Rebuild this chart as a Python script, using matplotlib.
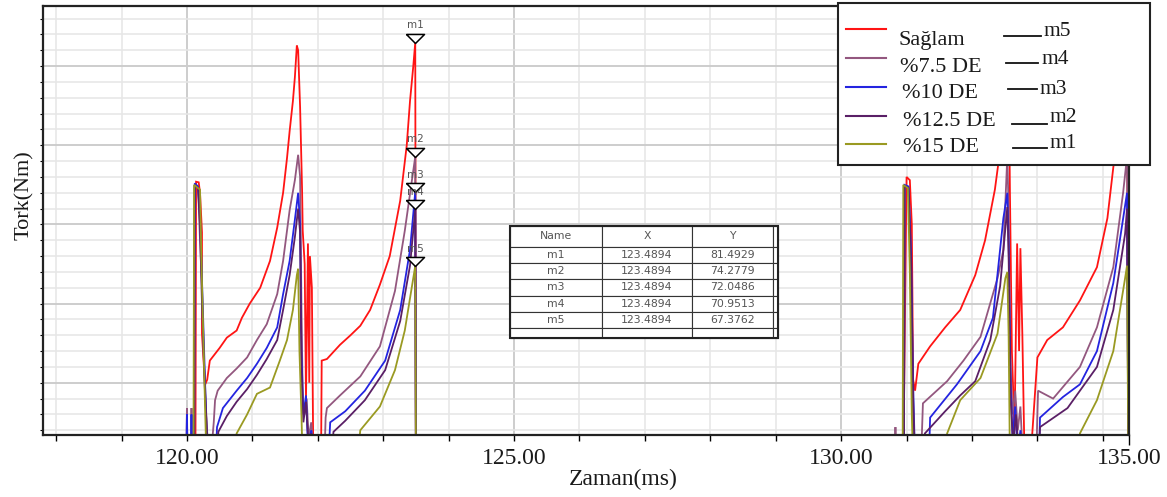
import numpy as np
import matplotlib as mpl
import matplotlib.pyplot as plt
from matplotlib.patches import Rectangle
from matplotlib.lines import Line2D
from matplotlib.ticker import MultipleLocator

mpl.rcParams['font.family'] = ['Liberation Serif', 'DejaVu Serif']

# --- data (time in ms, torque in Nm) ---
series_names = ['Sağlam', '%7.5 DE', '%10 DE', '%12.5 DE', '%15 DE']
series_colors = ['#ff1414', '#93577f', '#2424e0', '#5a1f66', '#9a9a22']

saglam_t = [117.80, 120.13, 120.14, 120.18, 120.20, 120.23, 120.23, 120.26, 120.28, 120.31,
            120.35, 120.50, 120.61, 120.76, 120.84, 120.96, 121.12, 121.27, 121.38, 121.47,
            121.53, 121.57, 121.62, 121.65, 121.68, 121.70, 121.73, 121.76, 121.77, 121.80,
            121.82, 121.85, 121.87, 121.88, 121.91, 121.93, 122.00, 122.05, 122.06, 122.14,
            122.34, 122.50, 122.65, 122.80, 122.95, 123.10, 123.26, 123.36, 123.41, 123.46,
            123.49, 123.50, 130.95, 131.00, 131.05, 131.08, 131.10, 131.13, 131.18, 131.36,
            131.59, 131.82, 132.05, 132.20, 132.35, 132.43, 132.49, 132.54, 132.56, 132.58,
            132.61, 132.65, 132.69, 132.72, 132.74, 132.77, 132.80, 132.90, 132.92, 133.00,
            133.15, 133.39, 133.65, 133.91, 134.07, 134.16, 134.28, 134.37, 134.38, 134.40]
saglam_tq = [55.0, 55.0, 72.7, 72.66, 72.0, 69.5, 63.1, 61.0, 59.9, 60.2,
             61.4, 62.2, 62.85, 63.3, 64.1, 65.0, 66.0, 67.7, 69.8, 72.0,
             74.2, 75.9, 77.8, 79.3, 81.3, 81.0, 77.4, 72.2, 69.6, 67.5,
             59.0, 68.8, 60.0, 68.0, 66.0, 56.0, 55.0, 55.0, 61.4, 61.5,
             62.4, 63.0, 63.6, 64.6, 66.2, 68.0, 71.5, 75.0, 77.8, 80.0,
             81.49, 55.0, 55.0, 73.0, 72.8, 70.0, 60.2, 59.5, 61.2, 62.3,
             63.5, 64.6, 66.8, 69.0, 72.2, 74.7, 78.5, 81.3, 80.5, 72.0,
             62.0, 57.0, 68.8, 62.0, 68.5, 63.0, 56.0, 55.0, 56.7, 61.6,
             62.7, 63.5, 65.2, 67.3, 70.4, 73.6, 77.5, 81.5, 66.0, 55.0]

de75_t = [117.80, 119.99, 120.00, 120.01, 120.06, 120.07, 120.08, 120.11, 120.12, 120.17,
          120.20, 120.23, 120.26, 120.29, 120.32, 120.36, 120.41, 120.43, 120.47, 120.61,
          120.76, 120.92, 121.07, 121.22, 121.38, 121.47, 121.57, 121.65, 121.70, 121.73,
          121.75, 121.77, 121.80, 121.83, 121.86, 121.90, 121.95, 122.10, 122.12, 122.14,
          122.34, 122.65, 122.95, 123.18, 123.33, 123.49, 123.50, 130.82, 130.83, 130.84,
          130.96, 130.97, 131.03, 131.06, 131.08, 131.10, 131.13, 131.22, 131.25, 131.62,
          131.87, 132.13, 132.39, 132.48, 132.54, 132.56, 132.58, 132.62, 132.66, 132.70,
          132.74, 132.78, 132.98, 133.00, 133.01, 133.24, 133.65, 133.91, 134.16, 134.31,
          134.37, 134.39]
de75_tq = [55.0, 55.0, 58.4, 55.0, 55.0, 58.4, 55.0, 55.0, 72.5, 72.4,
           69.0, 66.0, 61.5, 58.5, 56.0, 55.0, 57.5, 58.9, 59.5, 60.3,
           60.9, 61.6, 62.7, 63.7, 65.6, 67.7, 70.9, 72.8, 74.4, 73.0,
           65.0, 59.0, 58.0, 59.0, 56.5, 57.5, 55.0, 55.0, 57.8, 58.4,
           59.2, 60.4, 62.3, 65.8, 69.6, 74.28, 55.0, 55.0, 57.2, 55.0,
           55.0, 72.4, 72.3, 69.0, 63.0, 57.5, 55.0, 55.0, 58.7, 60.1,
           61.4, 62.9, 66.6, 68.4, 74.3, 71.0, 62.0, 58.0, 59.5, 57.0,
           58.5, 55.0, 55.0, 58.0, 59.5, 59.0, 61.0, 63.5, 67.3, 72.0,
           74.3, 55.0]

de10_t = [117.80, 119.99, 120.00, 120.01, 120.06, 120.07, 120.08, 120.11, 120.12, 120.17,
          120.20, 120.23, 120.27, 120.30, 120.34, 120.44, 120.46, 120.55, 120.76, 120.92,
          121.07, 121.22, 121.38, 121.47, 121.57, 121.65, 121.70, 121.73, 121.75, 121.78,
          121.82, 121.85, 121.90, 121.95, 122.16, 122.19, 122.42, 122.72, 123.03, 123.26,
          123.41, 123.49, 123.50, 130.96, 130.97, 131.03, 131.07, 131.10, 131.13, 131.34,
          131.36, 131.77, 132.13, 132.32, 132.48, 132.54, 132.56, 132.59, 132.62, 132.66,
          132.70, 132.74, 132.78, 133.02, 133.04, 133.39, 133.65, 133.91, 134.16, 134.37,
          134.39]
de10_tq = [55.0, 55.0, 58.0, 55.0, 55.0, 58.0, 55.0, 55.0, 72.6, 72.4,
           70.5, 66.5, 61.0, 57.0, 55.0, 55.0, 57.2, 58.4, 59.5, 60.3,
           61.2, 62.2, 63.5, 65.6, 67.7, 70.3, 72.0, 70.0, 62.0, 58.0,
           59.2, 56.0, 57.0, 55.0, 55.0, 57.5, 58.2, 59.5, 61.4, 64.6,
           68.4, 72.05, 55.0, 55.0, 72.5, 72.4, 68.0, 60.0, 55.0, 55.0,
           57.8, 59.9, 62.0, 64.1, 70.4, 72.0, 69.0, 60.0, 56.5, 58.5,
           55.5, 57.0, 55.0, 55.0, 57.8, 59.1, 59.9, 62.0, 66.3, 72.0,
           55.0]

de125_t = [117.80, 120.11, 120.12, 120.17, 120.20, 120.23, 120.27, 120.31, 120.35, 120.46,
           120.48, 120.61, 120.76, 120.92, 121.07, 121.22, 121.38, 121.47, 121.57, 121.65,
           121.70, 121.73, 121.75, 121.78, 121.82, 121.86, 121.90, 121.95, 122.20, 122.24,
           122.42, 122.72, 123.03, 123.26, 123.41, 123.49, 123.50, 130.96, 130.97, 131.03,
           131.07, 131.10, 131.13, 131.26, 131.28, 131.59, 131.82, 132.05, 132.28, 132.43,
           132.54, 132.56, 132.59, 132.63, 132.67, 132.72, 132.78, 133.02, 133.04, 133.46,
           133.91, 134.16, 134.34, 134.37, 134.39]
de125_tq = [55.0, 55.0, 72.5, 72.3, 70.0, 65.0, 60.0, 56.5, 55.0, 55.0,
            56.9, 57.9, 58.8, 59.6, 60.5, 61.5, 62.7, 64.6, 66.8, 69.2,
            71.0, 69.5, 61.0, 57.5, 58.8, 56.0, 56.8, 55.0, 55.0, 56.9,
            57.6, 58.9, 60.8, 63.9, 67.4, 70.95, 55.0, 55.0, 72.4, 72.3,
            67.5, 59.0, 55.0, 55.0, 56.8, 58.2, 59.2, 60.1, 62.7, 66.1,
            71.1, 68.0, 59.0, 56.0, 58.0, 55.5, 55.0, 55.0, 57.2, 58.4,
            61.0, 64.6, 69.4, 71.0, 55.0]

de15_t = [117.80, 120.10, 120.11, 120.20, 120.22, 120.25, 120.28, 120.30, 120.74, 120.76,
          120.92, 121.07, 121.27, 121.42, 121.53, 121.62, 121.68, 121.70, 121.72, 121.75,
          121.77, 122.60, 122.65, 122.95, 123.18, 123.33, 123.49, 123.50, 130.94, 130.95,
          131.02, 131.05, 131.08, 131.10, 131.60, 131.62, 131.82, 132.13, 132.39, 132.51,
          132.54, 132.56, 132.58, 133.63, 133.65, 133.91, 134.16, 134.34, 134.37, 134.39]
de15_tq = [55.0, 55.0, 72.5, 72.2, 68.0, 63.0, 58.0, 55.0, 55.0, 56.8,
           58.0, 59.3, 59.7, 61.4, 62.7, 64.6, 66.8, 67.2, 62.0, 58.0,
           55.0, 55.0, 57.0, 58.5, 60.8, 63.3, 67.38, 55.0, 55.0, 72.5,
           72.3, 67.0, 58.0, 55.0, 55.0, 56.8, 58.9, 60.3, 63.1, 66.6,
           67.0, 63.0, 55.0, 55.0, 56.8, 58.9, 62.0, 66.6, 67.4, 55.0]

series_t = [saglam_t, de75_t, de10_t, de125_t, de15_t]
series_tq = [saglam_tq, de75_tq, de10_tq, de125_tq, de15_tq]

marker_names = ['m1', 'm2', 'm3', 'm4', 'm5']
marker_t = [123.4894, 123.4894, 123.4894, 123.4894, 123.4894]
marker_tq = [81.4929, 74.2779, 72.0486, 70.9513, 67.3762]

xtick_vals = [120, 125, 130]
xtick_labels = ['120.00', '125.00', '130.00']
x_end_label = '135.00'
x_range = (117.80, 134.40)
y_range = (56.7, 83.8)

W, H = 1167, 497


def fx(px):
    return px / W


def fy(py):
    return 1 - py / H


fig = plt.figure(figsize=(W / 100, H / 100), dpi=100)
ax = fig.add_axes([fx(43), fy(435), (1129 - 43) / W, (435 - 6) / H])

for t, tq, c in zip(series_t, series_tq, series_colors):
    ax.plot(t, tq, color=c, lw=1.3, solid_joinstyle='miter')

ax.set_xlim(*x_range)
ax.set_ylim(*y_range)

# axis ticks / grid
ax.set_xticks(xtick_vals + [x_range[1]])
ax.set_xticklabels(xtick_labels + [x_end_label])
ax.xaxis.set_minor_locator(MultipleLocator(1))
ax.yaxis.set_major_locator(MultipleLocator(5))
ax.yaxis.set_minor_locator(MultipleLocator(1))
ax.tick_params(axis='x', which='both', direction='out', length=4.5, width=1, pad=5,
               labelsize=17, labelcolor='#1a1a1a')
ax.tick_params(axis='y', which='both', direction='out', length=2.5, width=0.8,
               labelleft=False)
ax.xaxis.get_major_ticks()[-1].tick1line.set_markersize(7)
ax.grid(which='major', color='#cdcdcd', lw=1.4)
ax.grid(which='minor', color='#e6e6e6', lw=1.1)
ax.set_axisbelow(True)
for s in ax.spines.values():
    s.set_color('#222222')
    s.set_linewidth(1.6)

ax.set_xlabel('Zaman(ms)', fontsize=17, color='#1a1a1a')
ax.xaxis.set_label_coords((623 - 43) / 1086, -0.08)
ax.set_ylabel('Tork(Nm)', fontsize=16, color='#1a1a1a')
ax.yaxis.set_label_coords(-0.008, 0.56)

# markers: triangle tip on the point
tri = [(-1, 1), (1, 1), (0, 0), (-1, 1)]
ax.plot(marker_t, marker_tq, ls='none', marker=tri, ms=13, mfc='white', mec='black',
        mew=1.1, zorder=6)
for n, t, v in zip(marker_names, marker_t, marker_tq):
    ax.annotate(n, (t, v), xytext=(0, 12.5), textcoords='offset points', ha='center',
                va='center', fontsize=7.5, color='#555555', family='DejaVu Sans',
                zorder=7)

# marker value table
cell_text = [['Name', 'X', 'Y', '']]
for n, t, v in zip(marker_names, marker_t, marker_tq):
    cell_text.append([n, f'{t:.4f}', f'{v:.4f}', ''])
cell_text.append(['', '', '', ''])
col_w = [92, 90, 81, 5]
row_h = [21] + [16.5] * len(marker_names) + [10]
tbl = ax.table(cellText=cell_text, cellLoc='center',
               bbox=[(510 - 43) / 1086, (435 - 338) / 429, (778 - 510) / 1086, (338 - 226) / 429])
tbl.auto_set_font_size(False)
tbl.set_fontsize(7.8)
for (r, c), cell in tbl.get_celld().items():
    cell.set_width(col_w[c])
    cell.set_height(row_h[r])
    cell.set_linewidth(0.8)
    cell.set_edgecolor('#333333')
    cell.get_text().set_color('#555555')
    cell.get_text().set_family('DejaVu Sans')
tbl.set_zorder(8)
ax.add_patch(Rectangle(((510 - 43) / 1086, (435 - 338) / 429), (778 - 510) / 1086,
                       (338 - 226) / 429, transform=ax.transAxes, fill=False,
                       ec='#222222', lw=1.5, zorder=9, clip_on=False))

# legend box (drawn by hand, sits over the plot and past the right edge)
fig.add_artist(Rectangle((fx(838), fy(165)), fx(1150) - fx(838), fy(3) - fy(165),
                         transform=fig.transFigure, fc='white', ec='#222222', lw=1.5,
                         zorder=10))
line_y = [29, 58, 87, 116, 144]
text_xy = [(898, 41), (900, 67), (902, 93), (903, 121), (903, 148)]
for name, c, ly, (tx, ty) in zip(series_names, series_colors, line_y, text_xy):
    fig.add_artist(Line2D([fx(846), fx(886)], [fy(ly), fy(ly)], color=c, lw=1.5,
                          transform=fig.transFigure, zorder=11))
    fig.text(fx(tx), fy(ty), name, fontsize=16, color='#1a1a1a', va='center',
             ha='left', zorder=11)
mleg = [('m5', 1004, 1041, 36, 32), ('m4', 1006, 1038, 63, 60), ('m3', 1008, 1037, 89, 89),
        ('m2', 1012, 1047, 124, 118), ('m1', 1013, 1047, 148, 143)]
for n, x0, x1, ly, ty in mleg:
    fig.add_artist(Line2D([fx(x0), fx(x1)], [fy(ly), fy(ly)], color='#111111', lw=1.3,
                          transform=fig.transFigure, zorder=11))
    fig.text(fx(x1 + 3), fy(ty), n, fontsize=15.5, color='#1a1a1a', va='center',
             ha='left', zorder=11)

fig.savefig('out.png', dpi=100)
